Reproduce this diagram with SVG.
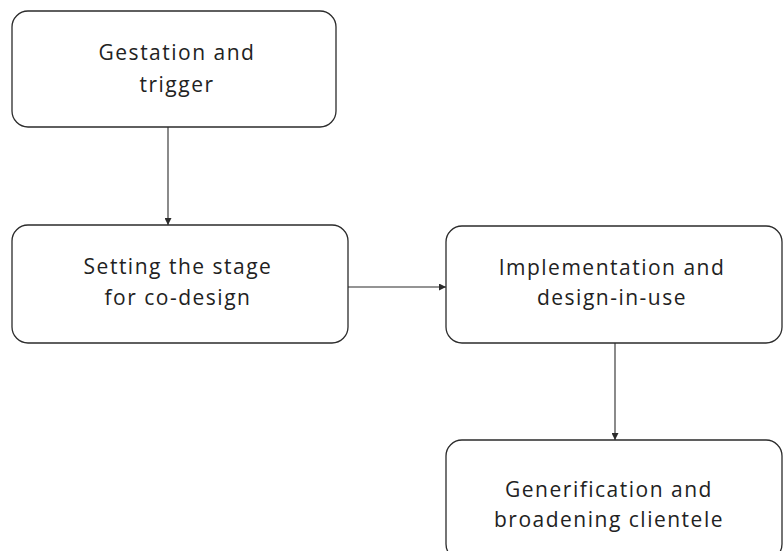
<svg xmlns="http://www.w3.org/2000/svg" width="783" height="551" viewBox="0 0 783 551">
  <style>
    .box { fill: #ffffff; stroke: #2b2b2b; stroke-width: 1.3; }
    .lbl { font-family: "Open Sans", "Liberation Sans", sans-serif; font-size: 21px; fill: #222222; text-anchor: middle; letter-spacing: 1.5px; }
    .edge { stroke: #2b2b2b; stroke-width: 1.1; fill: none; marker-end: url(#head); }
  </style>
  <defs>
    <marker id="head" viewBox="0 0 10 10" refX="10" refY="5" markerWidth="7" markerHeight="7" markerUnits="userSpaceOnUse" orient="auto">
      <path d="M0,0 L10,5 L0,10 z" fill="#2b2b2b"/>
    </marker>
  </defs>
  <rect width="783" height="551" fill="#ffffff"/>

  <g id="connectors">
    <path class="edge" d="M168,127 V225"/>
    <path class="edge" d="M348,287 H446"/>
    <path class="edge" d="M615,343 V440"/>
  </g>

  <g id="gestation">
    <rect class="box" x="12" y="11" width="324" height="116" rx="16"/>
    <text class="lbl" x="177" y="60">Gestation and</text>
    <text class="lbl" x="177" y="92">trigger</text>
  </g>

  <g id="setting-stage">
    <rect class="box" x="12" y="225" width="336" height="118" rx="16"/>
    <text class="lbl" x="178" y="274">Setting the stage</text>
    <text class="lbl" x="178" y="305">for co-design</text>
  </g>

  <g id="implementation">
    <rect class="box" x="446" y="226" width="336" height="117" rx="16"/>
    <text class="lbl" x="612" y="275">Implementation and</text>
    <text class="lbl" x="612" y="305">design-in-use</text>
  </g>

  <g id="generification">
    <rect class="box" x="446" y="440" width="336" height="120" rx="16"/>
    <text class="lbl" x="609" y="497">Generification and</text>
    <text class="lbl" x="609" y="527">broadening clientele</text>
  </g>
</svg>
